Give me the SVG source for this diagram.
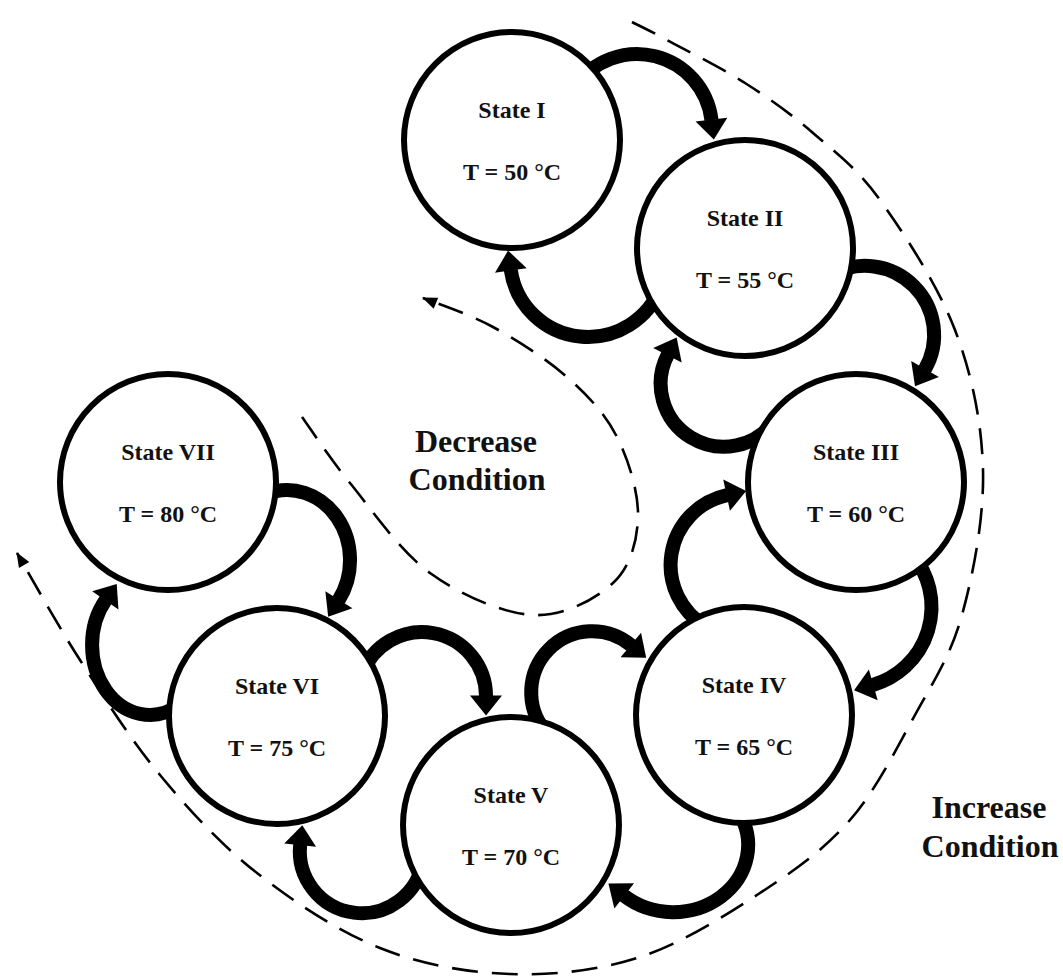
<svg xmlns="http://www.w3.org/2000/svg" width="1063" height="977" viewBox="0 0 1063 977">
  <defs>
    <!-- broad head for the thick transition arrows -->
    <marker id="head" markerUnits="userSpaceOnUse" viewBox="0 0 20 32" markerWidth="20" markerHeight="32" refX="0.5" refY="16" orient="auto" overflow="visible">
      <path d="M0,0 L20,16 L0,32 Z" fill="#000"/>
    </marker>
    <!-- small head for the dashed condition paths -->
    <marker id="tip" markerUnits="userSpaceOnUse" viewBox="0 0 15 12" markerWidth="15" markerHeight="12" refX="14" refY="6" orient="auto" overflow="visible">
      <path d="M0,0 L15,6 L0,12 Z" fill="#000"/>
    </marker>
  </defs>
  <style>
    .band { fill: none; stroke: #000; stroke-width: 14; marker-end: url(#head); }
    .dash { fill: none; stroke: #000; stroke-width: 2.6; stroke-dasharray: 26 14; marker-end: url(#tip); }
    .node circle { fill: #fff; stroke: #000; stroke-width: 6; }
    .node text { font-family: "Liberation Serif", "Times New Roman", serif; font-weight: bold; font-size: 24px; text-anchor: middle; fill: #111; }
    .cond { font-family: "Liberation Serif", "Times New Roman", serif; font-weight: bold; font-size: 32px; text-anchor: middle; fill: #111; }
  </style>

  <rect width="1063" height="977" fill="#fff"/>

  <g id="connectors">
    <!-- increase condition: outer sweep -->
    <path class="dash" d="M632,22 C637.8,25 648.2,29.8 667,40 C685.8,50.2 720.7,67.5 745,83 C769.3,98.5 790.5,113.5 813,133 C835.5,152.5 856.3,167.2 880,200 C903.7,232.8 937.8,285 955,330 C972.2,375 981.8,422.5 983,470 C984.2,517.5 973.3,574.2 962,615 C950.7,655.8 933.7,680.8 915,715 C896.3,749.2 875.8,790.3 850,820 C824.2,849.7 795,870.2 760,893 C725,915.8 681.7,943.5 640,957 C598.3,970.5 553.3,975.5 510,974 C466.7,972.5 422.2,964.8 380,948 C337.8,931.2 293.7,901.8 257,873 C220.3,844.2 189.5,810.5 160,775 C130.5,739.5 103.8,697 80,660 C56.2,623 27.5,570.8 17,553"/>
    <!-- decrease condition: inner loop -->
    <path class="dash" d="M302,417 C310,428 328.7,457 350,483 C371.3,509 399.5,551 430,573 C460.5,595 502.5,613.3 533,615 C563.5,616.7 595.5,599.3 613,583 C630.5,566.7 637.3,541.3 638,517 C638.7,492.7 628.8,460.3 617,437 C605.2,413.7 587.7,395.3 567,377 C546.3,358.7 517,340.2 493,327 C469,313.8 434.7,302.8 423,298"/>

    <!-- increasing transitions (outer side) -->
    <path id="e-1-2" class="band" d="M575.6,86 A75,75 0 0 1 711.5,120.1"/>
    <path id="e-2-3" class="band" d="M830.5,275.2 A69,69 0 0 1 924.8,369.5"/>
    <path id="e-3-4" class="band" d="M912.5,554.9 A81,81 0 0 1 872.8,684.9"/>
    <path id="e-4-5" class="band" d="M738,811.5 A75,67 0 0 1 623.8,895.6"/>
    <path id="e-5-6" class="band" d="M423.1,860.8 A62,62 0 0 1 300.2,844.6"/>
    <path id="e-6-7" class="band" d="M179,705.6 A58,70 0 0 1 105.6,600"/>

    <!-- decreasing transitions (inner side) -->
    <path id="e-2-1" class="band" d="M661.3,285.7 A78,78 0 0 1 510.8,269.9"/>
    <path id="e-3-2" class="band" d="M775.1,420.1 A63,63 0 0 1 667.7,354.8"/>
    <path id="e-4-3" class="band" d="M706.3,626.9 A71.5,71.5 0 0 1 727.1,495.1"/>
    <path id="e-5-4" class="band" d="M545.3,731.2 A61,61 0 0 1 631.2,645.3"/>
    <path id="e-6-5" class="band" d="M361.9,674.1 A64,64 0 0 1 486,696"/>
    <path id="e-7-6" class="band" d="M265.5,494.2 A63,70 0 0 1 338.6,600.2"/>
  </g>

  <g id="state-1" class="node">
    <circle cx="512" cy="140" r="108"/>
    <text x="512" y="118">State I</text>
    <text x="512" y="180">T = 50 °C</text>
  </g>
  <g id="state-2" class="node">
    <circle cx="745" cy="248" r="108"/>
    <text x="745" y="226">State II</text>
    <text x="745" y="288">T = 55 °C</text>
  </g>
  <g id="state-3" class="node">
    <circle cx="856" cy="482" r="108"/>
    <text x="856" y="460">State III</text>
    <text x="856" y="522">T = 60 °C</text>
  </g>
  <g id="state-4" class="node">
    <circle cx="744" cy="715" r="108"/>
    <text x="744" y="693">State IV</text>
    <text x="744" y="755">T = 65 °C</text>
  </g>
  <g id="state-5" class="node">
    <circle cx="511" cy="825" r="108"/>
    <text x="511" y="803">State V</text>
    <text x="511" y="865">T = 70 °C</text>
  </g>
  <g id="state-6" class="node">
    <circle cx="277" cy="716" r="108"/>
    <text x="277" y="694">State VI</text>
    <text x="277" y="756">T = 75 °C</text>
  </g>
  <g id="state-7" class="node">
    <circle cx="168" cy="482" r="108"/>
    <text x="168" y="460">State VII</text>
    <text x="168" y="522">T = 80 °C</text>
  </g>

  <g id="labels">
    <text class="cond" x="476" y="452">Decrease</text>
    <text class="cond" x="477" y="490">Condition</text>
    <text class="cond" x="989" y="818">Increase</text>
    <text class="cond" x="990" y="857">Condition</text>
  </g>
</svg>
